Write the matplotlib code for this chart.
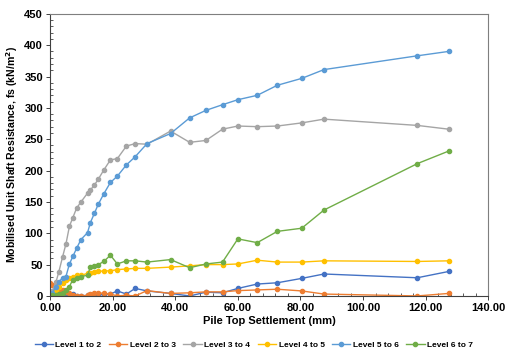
import numpy as np
import matplotlib
matplotlib.use('Agg')
import matplotlib.pyplot as plt
import matplotlib.ticker as tkr

plt.rcParams['font.family'] = ['Liberation Sans', 'DejaVu Sans']
plt.rcParams['font.weight'] = 'bold'

# pile top settlement (mm), shared by all levels
settlement = [0, 0.8, 1.9, 2.8, 4.0, 5.1, 6.2, 7.3, 8.5, 9.9, 12.0, 12.9, 14.2, 15.4,
              17.2, 19.3, 21.5, 24.4, 27.2, 31.0, 38.5, 44.6, 49.8, 55.1, 60.0, 66.2,
              72.6, 80.4, 87.5, 117.3, 127.3]

level_1_2 = [0, 5, 10, 8, 6, 4, 3, 3, 0, 0, 1, 1, 1, 1, 3, 3, 8, 3, 12, 8,
             4, 0, 6, 5, 12, 19, 21, 28, 35, 29, 39]
level_2_3 = [20, 18, 12, 10, 9, 6, 4, 1, 0, 0, 1, 3, 5, 5, 4, 3, 0, 1, 0, 8.5,
             4, 5, 6.5, 6.5, 8.5, 9.6, 10.7, 8, 3, 0, 4]
level_3_4 = [0, 8, 22, 38, 62, 83, 111, 125, 140, 150, 164, 169, 177, 186, 201, 217,
             219, 239, 243, 242, 263, 245, 248, 266, 271, 270, 271, 276, 282, 272, 266]
level_4_5 = [0, 3, 8, 14, 20, 25, 28, 31, 33, 33, 36, 37, 38, 39, 40, 40, 42, 43, 44, 44,
             46, 48, 50, 50, 51, 57, 54, 54, 56, 55, 56]
level_5_6 = [0, 5, 15, 22, 29, 31, 51, 63, 76, 90, 101, 117, 132, 146, 163, 181, 191,
             209, 222, 243, 259, 284, 296, 305, 313, 320, 336, 347, 361, 383, 390]
level_6_7 = [0, 1, 2, 3, 4, 10, 15, 26, 29, 31, 33, 46, 47, 50, 55, 65, 51, 56, 56, 54,
             58, 45, 51, 54, 91, 85, 103, 108, 137, 211, 231]

series = [('Level 1 to 2', level_1_2, '#4472C4'),
          ('Level 2 to 3', level_2_3, '#ED7D31'),
          ('Level 3 to 4', level_3_4, '#A5A5A5'),
          ('Level 4 to 5', level_4_5, '#FFC000'),
          ('Level 5 to 6', level_5_6, '#5B9BD5'),
          ('Level 6 to 7', level_6_7, '#70AD47')]

fig = plt.figure(figsize=(5.05, 3.54), dpi=100)
ax = fig.add_axes([0.099, 0.164, 0.868, 0.797])

for name, vals, col in series:
    ax.plot(settlement, vals, '-o', color=col, linewidth=1.0, markersize=3.0, label=name)

ax.set_xlim(0, 140)
ax.set_ylim(0, 450)
ax.xaxis.set_major_locator(tkr.MultipleLocator(20))
ax.xaxis.set_minor_locator(tkr.MultipleLocator(4))
ax.yaxis.set_major_locator(tkr.MultipleLocator(50))
ax.yaxis.set_minor_locator(tkr.MultipleLocator(10))
ax.xaxis.set_major_formatter(tkr.FormatStrFormatter('%.2f'))

for s in ax.spines.values():
    s.set_color('#404040')
    s.set_linewidth(0.8)
ax.spines['top'].set_color('#7f7f7f')
ax.spines['right'].set_color('#7f7f7f')

ax.tick_params(which='major', direction='out', length=3, width=0.7, color='#404040',
               labelsize=8, pad=2)
ax.tick_params(which='minor', direction='in', length=2, width=0.6, color='#404040')

ax.set_xlabel('Pile Top Settlement (mm)', fontsize=8, fontweight='bold', labelpad=2)
ax.set_ylabel('Mobilised Unit Shaft Resistance, fs (kN/m$^{\\mathbf{2}}$)', fontsize=7.6,
              fontweight='bold', labelpad=3)

ax.legend(loc='center', bbox_to_anchor=(0.465, -0.174), ncol=6, frameon=False,
          borderaxespad=0, handlelength=2.2, handletextpad=0.3, columnspacing=0.9,
          prop={'weight': 'bold', 'size': 6})

fig.savefig('out.png', dpi=100)
